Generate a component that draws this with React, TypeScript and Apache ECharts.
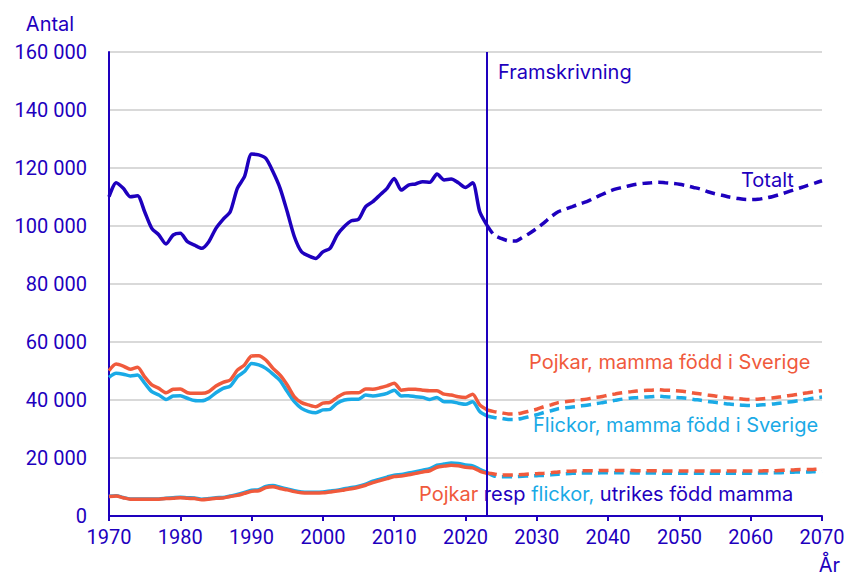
import React, { useEffect, useRef } from "react";
import * as echarts from "echarts";

const DARK = "#1e00be";
const ORANGE = "#f05a3c";
const CYAN = "#1aaae6";
const AXIS_FONT = "Roboto";
const LABEL_FONT = "Inter";

const histStart = 1970;
const projStart = 2023;

const totalHist = [
  110100, 114900, 113000, 110100, 110400, 104900, 99200, 96900, 93800, 96900,
  97500, 94600, 93400, 92300, 94600, 99200, 102300, 104900, 113000, 117000,
  124800, 124500, 123300, 118700, 113000, 104900, 96300, 91100, 89700, 88800,
  91100, 92300, 96900, 99800, 101800, 102300, 106700, 108400, 110700, 113000,
  116400, 112400, 114100, 114500, 115300, 115100, 117900, 115900, 116200, 114900,
  113300, 114900, 104900, 100300,
];
const totalProj = [
  100300, 96900, 95700, 94900, 94800, 96100, 97500, 99200, 101100, 103200,
  104900, 105800, 106700, 107600, 108400, 109600, 110700, 111800, 112700, 113300,
  113900, 114400, 114700, 114900, 115100, 114900, 114700, 114400, 113900, 113300,
  112700, 111800, 111100, 110600, 110000, 109600, 109200, 109100, 109200, 109600,
  110100, 110800, 111600, 112400, 113200, 114000, 114800, 115600,
];
const pojkarSvHist = [
  50100, 52400, 51700, 50600, 51300, 48000, 45200, 44000, 42500, 43700,
  43800, 42500, 42300, 42300, 42900, 44800, 46100, 46900, 50300, 52100,
  55200, 55300, 53800, 50900, 48600, 45200, 41100, 39100, 38300, 37700,
  38900, 39200, 40900, 42300, 42500, 42500, 43800, 43700, 44200, 44900,
  45800, 43400, 43700, 43700, 43400, 43200, 43200, 42000, 41700, 41100,
  40900, 42000, 38300, 36600,
];
const flickorSvHist = [
  47800, 49200, 48900, 48300, 48600, 45800, 42900, 41700, 40200, 41400,
  41500, 40600, 39800, 39700, 40600, 42500, 44000, 44800, 48000, 49800,
  52600, 52100, 50900, 48900, 46700, 42900, 39400, 37100, 36000, 35600,
  36600, 36800, 38900, 40000, 40300, 40300, 41700, 41400, 41700, 42300,
  43400, 41400, 41500, 41100, 40900, 40200, 40900, 39400, 39400, 38900,
  38500, 39400, 36000, 34500,
];
const pojkarSvProj = [
  36600, 36000, 35600, 35200, 35200, 35600, 36200, 36800, 37700, 38300,
  39100, 39400, 39700, 40000, 40300, 40800, 41100, 41700, 42100, 42500,
  42800, 43100, 43300, 43400, 43600, 43400, 43300, 43100, 42800, 42400,
  42100, 41700, 41400, 41000, 40700, 40500, 40300, 40200, 40300, 40500,
  40700, 41000, 41400, 41700, 42100, 42500, 42900, 43200,
];
const flickorSvProj = [
  34500, 34000, 33700, 33300, 33300, 33700, 34300, 34900, 35700, 36300,
  37000, 37300, 37600, 37900, 38200, 38600, 39000, 39500, 39900, 40300,
  40600, 40800, 41000, 41100, 41300, 41100, 41000, 40800, 40600, 40200,
  39900, 39500, 39200, 38900, 38600, 38400, 38200, 38100, 38200, 38400,
  38600, 38900, 39200, 39500, 39900, 40300, 40700, 41000,
];
const pojkarUtHist = [
  6700, 6900, 6300, 5800, 5800, 5800, 5800, 5800, 6000, 6100,
  6300, 6100, 6000, 5600, 5800, 6100, 6200, 6700, 7100, 7800,
  8500, 8700, 9800, 10100, 9500, 9000, 8400, 8000, 7900, 7900,
  8000, 8300, 8600, 9000, 9400, 9900, 10600, 11500, 12200, 12900,
  13600, 13800, 14200, 14700, 15200, 15600, 16800, 17200, 17500, 17300,
  16800, 16600, 15500, 14700,
];
const flickorUtHist = [
  6800, 7000, 6400, 5900, 5900, 5900, 5900, 5900, 6100, 6300,
  6500, 6300, 6200, 5800, 6000, 6300, 6400, 6900, 7400, 8100,
  8900, 9100, 10200, 10500, 9900, 9300, 8700, 8300, 8200, 8200,
  8300, 8600, 8900, 9400, 9800, 10300, 11000, 12000, 12700, 13400,
  14100, 14300, 14800, 15300, 15800, 16300, 17500, 17900, 18300, 18100,
  17600, 17300, 16100, 15000,
];
const pojkarUtProj = [
  14700, 14500, 14100, 14100, 14200, 14300, 14500, 14600, 14700, 14900,
  15200, 15400, 15500, 15600, 15600, 15600, 15700, 15700, 15700, 15700,
  15700, 15600, 15600, 15600, 15600, 15500, 15500, 15500, 15500, 15500,
  15500, 15500, 15500, 15500, 15500, 15500, 15500, 15500, 15500, 15600,
  15600, 15700, 15800, 15900, 16000, 16000, 16100, 16200,
];
const flickorUtProj = [
  15000, 13800, 13500, 13500, 13600, 13700, 13800, 13900, 14000, 14200,
  14400, 14600, 14700, 14800, 14800, 14800, 14900, 14900, 14900, 14900,
  14900, 14800, 14800, 14800, 14800, 14700, 14700, 14700, 14700, 14700,
  14700, 14700, 14700, 14700, 14700, 14700, 14700, 14700, 14800, 14800,
  14900, 14900, 15000, 15100, 15200, 15200, 15300, 15400,
];

const yTickFormat = (v: number) =>
  String(v).replace(/\B(?=(\d{3})+(?!\d))/g, " ");

const toPairs = (start: number, vals: number[]) =>
  vals.map((v, i) => [start + i, v]);

export default function App() {
  const ref = useRef<HTMLDivElement>(null);
  useEffect(() => {
    if (!ref.current) return;
    const chart = echarts.init(ref.current, undefined, { renderer: "svg" });
    const line = (
      name: string,
      start: number,
      vals: number[],
      color: string,
      dashed: boolean,
      z: number,
      extra: any = {}
    ) => ({
      name,
      type: "line",
      data: toPairs(start, vals),
      showSymbol: false,
      smooth: 0.25,
      z,
      lineStyle: {
        color,
        width: 3.5,
        type: dashed ? [10, 6] : "solid",
        cap: "butt",
      },
      itemStyle: { color },
      ...extra,
    });
    const axisText = { fontFamily: AXIS_FONT, fontSize: 20 };
    const lblText = { fontFamily: LABEL_FONT, fontSize: 20 };
    chart.setOption({
      animation: false,
      backgroundColor: "#ffffff",
      grid: { left: 109, right: 26, top: 52, bottom: 60, containLabel: false },
      xAxis: {
        type: "value",
        min: 1970,
        max: 2070,
        interval: 10,
        axisLine: { show: true, lineStyle: { color: DARK, width: 2 } },
        axisTick: { show: true, length: 5, lineStyle: { color: DARK, width: 2 } },
        axisLabel: {
          color: DARK,
          margin: 11,
          formatter: (v: number) => String(v),
          ...axisText,
        },
        splitLine: { show: false },
      },
      yAxis: {
        type: "value",
        min: 0,
        max: 160000,
        interval: 20000,
        axisLine: { show: true, lineStyle: { color: DARK, width: 2 } },
        axisTick: { show: false },
        axisLabel: {
          color: DARK,
          margin: 22,
          formatter: yTickFormat,
          ...axisText,
        },
        splitLine: { lineStyle: { color: "#d9d9d9", width: 2 } },
      },
      series: [
        line("Totalt", histStart, totalHist, DARK, false, 5, {
          markLine: {
            silent: true,
            symbol: "none",
            label: { show: false },
            lineStyle: { color: DARK, width: 2, type: "solid" },
            data: [{ xAxis: projStart }],
          },
        }),
        line("Totalt prognos", projStart, totalProj, DARK, true, 5),
        line("Flickor Sverige", histStart, flickorSvHist, CYAN, false, 3),
        line("Flickor Sverige prognos", projStart, flickorSvProj, CYAN, true, 3),
        line("Pojkar Sverige", histStart, pojkarSvHist, ORANGE, false, 4),
        line("Pojkar Sverige prognos", projStart, pojkarSvProj, ORANGE, true, 4),
        line("Flickor utrikes", histStart, flickorUtHist, CYAN, false, 3),
        line("Flickor utrikes prognos", projStart, flickorUtProj, CYAN, true, 3),
        line("Pojkar utrikes", histStart, pojkarUtHist, ORANGE, false, 4),
        line("Pojkar utrikes prognos", projStart, pojkarUtProj, ORANGE, true, 4),
      ],
      graphic: [
        {
          type: "text",
          x: 50,
          y: 24,
          style: { text: "Antal", fill: DARK, align: "center", verticalAlign: "middle", ...lblText },
        },
        {
          type: "text",
          x: 498,
          y: 72,
          style: { text: "Framskrivning", fill: DARK, verticalAlign: "middle", ...lblText },
        },
        {
          type: "text",
          x: 741,
          y: 180,
          style: { text: "Totalt", fill: DARK, verticalAlign: "middle", ...lblText },
        },
        {
          type: "text",
          x: 529,
          y: 362,
          style: { text: "Pojkar, mamma född i Sverige", fill: ORANGE, verticalAlign: "middle", ...lblText },
        },
        {
          type: "text",
          x: 533,
          y: 425,
          style: { text: "Flickor, mamma född i Sverige", fill: CYAN, verticalAlign: "middle", ...lblText },
        },
        {
          type: "text",
          x: 419,
          y: 494,
          style: {
            text: "{o|Pojkar} {b|resp} {c|flickor,} {b|utrikes född mamma}",
            verticalAlign: "middle",
            fill: DARK,
            ...lblText,
            rich: {
              o: { fill: ORANGE, ...lblText },
              b: { fill: DARK, ...lblText },
              c: { fill: CYAN, ...lblText },
            },
          },
        },
        {
          type: "text",
          x: 840,
          y: 565,
          style: { text: "År", fill: DARK, align: "right", verticalAlign: "middle", ...lblText },
        },
      ],
    });
    return () => chart.dispose();
  }, []);
  return (
    <div
      ref={ref}
      style={{ position: "fixed", left: 0, top: 0, width: 848, height: 576 }}
    />
  );
}
